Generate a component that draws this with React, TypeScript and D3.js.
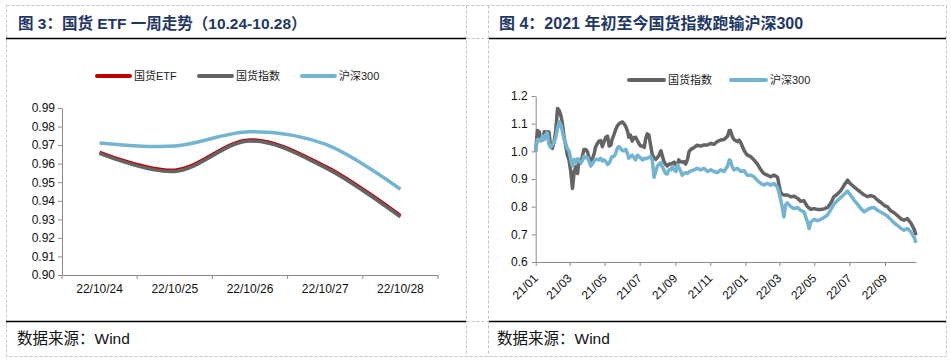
import { useRef, useEffect } from 'react';
import * as d3 from 'd3';

const W = 951;
const H = 362;

// 图3：国货ETF 一周走势
const weekDays = ['22/10/24', '22/10/25', '22/10/26', '22/10/27', '22/10/28'];
const etfWeek = [0.9661, 0.9565, 0.9728, 0.9586, 0.932];
const indexWeek = [0.9655, 0.9558, 0.9722, 0.9579, 0.9313];
const hs300Week = [0.9712, 0.9695, 0.9772, 0.9705, 0.9462];
const weekTicks = [0.9, 0.91, 0.92, 0.93, 0.94, 0.95, 0.96, 0.97, 0.98, 0.99];

// 图4：2021 年初至今
const dates = [
  '2021-01-04', '2021-01-07', '2021-01-10', '2021-01-13', '2021-01-16', '2021-01-19', '2021-01-21', '2021-01-24', '2021-01-27', '2021-01-30',
  '2021-02-02', '2021-02-05', '2021-02-08', '2021-02-11', '2021-02-14', '2021-02-17', '2021-02-19', '2021-02-22', '2021-02-25', '2021-02-28',
  '2021-03-03', '2021-03-06', '2021-03-09', '2021-03-12', '2021-03-15', '2021-03-18', '2021-03-20', '2021-03-23', '2021-03-26', '2021-03-29',
  '2021-04-01', '2021-04-04', '2021-04-07', '2021-04-10', '2021-04-13', '2021-04-16', '2021-04-18', '2021-04-21', '2021-04-24', '2021-04-27', '2021-04-30',
  '2021-05-03', '2021-05-06', '2021-05-09', '2021-05-12', '2021-05-15', '2021-05-17', '2021-05-20', '2021-05-23', '2021-05-26', '2021-05-29',
  '2021-06-01', '2021-06-04', '2021-06-07', '2021-06-10', '2021-06-13', '2021-06-15', '2021-06-18', '2021-06-21', '2021-06-24', '2021-06-27', '2021-06-30',
  '2021-07-03', '2021-07-06', '2021-07-09', '2021-07-12', '2021-07-14', '2021-07-17', '2021-07-20', '2021-07-23', '2021-07-26', '2021-07-29',
  '2021-08-01', '2021-08-04', '2021-08-07', '2021-08-10', '2021-08-12', '2021-08-15', '2021-08-18', '2021-08-21', '2021-08-24', '2021-08-27', '2021-08-30',
  '2021-09-02', '2021-09-05', '2021-09-08', '2021-09-10', '2021-09-13', '2021-09-16', '2021-09-19', '2021-09-22', '2021-09-25', '2021-09-28',
  '2021-10-01', '2021-10-07', '2021-10-12', '2021-10-18', '2021-10-24', '2021-10-30',
  '2021-11-05', '2021-11-10', '2021-11-16', '2021-11-22', '2021-11-28',
  '2021-12-04', '2021-12-07', '2021-12-09', '2021-12-12', '2021-12-15', '2021-12-21', '2021-12-24', '2021-12-27',
  '2022-01-02', '2022-01-07', '2022-01-13', '2022-01-19', '2022-01-25', '2022-01-31',
  '2022-02-05', '2022-02-11', '2022-02-17', '2022-02-23',
  '2022-03-01', '2022-03-06', '2022-03-09', '2022-03-12', '2022-03-15', '2022-03-18', '2022-03-24', '2022-03-30',
  '2022-04-05', '2022-04-10', '2022-04-16', '2022-04-22', '2022-04-25', '2022-04-28',
  '2022-05-04', '2022-05-09', '2022-05-15', '2022-05-21', '2022-05-27',
  '2022-06-02', '2022-06-07', '2022-06-13', '2022-06-19', '2022-06-25',
  '2022-07-01', '2022-07-06', '2022-07-12', '2022-07-18', '2022-07-24', '2022-07-30',
  '2022-08-05', '2022-08-10', '2022-08-16', '2022-08-22', '2022-08-28',
  '2022-09-03', '2022-09-08', '2022-09-14', '2022-09-20', '2022-09-26',
  '2022-10-02', '2022-10-07', '2022-10-13', '2022-10-19', '2022-10-25', '2022-10-28',
];

const indexLevel = [
  1.0, 1.075, 1.071, 1.047, 1.041, 1.071, 1.063, 1.071, 1.07, 1.017,
  1.011, 1.035, 1.077, 1.155, 1.147, 1.128, 1.107, 1.059, 1.023, 0.987,
  0.969, 0.927, 0.866, 0.927, 0.945, 0.92, 0.969, 0.957, 0.98, 1.007,
  1.007, 0.999, 0.975, 0.965, 0.975, 0.993, 1.014, 1.027, 1.037, 1.039, 1.017,
  1.035, 1.051, 1.055, 1.019, 1.023, 1.043, 1.059, 1.077, 1.092, 1.099,
  1.104, 1.106, 1.099, 1.089, 1.071, 1.051, 1.059, 1.037, 1.049, 1.051, 1.039,
  1.027, 1.019, 1.019, 1.014, 1.041, 1.063, 1.059, 1.023, 0.987, 0.977,
  0.971, 0.978, 0.987, 1.002, 0.987, 0.965, 0.953, 0.947, 0.954, 0.954, 0.957,
  0.961, 0.951, 0.954, 0.969, 0.963, 0.961, 0.963, 0.954, 0.969, 0.999,
  1.007, 1.014, 1.022, 1.019, 1.023, 1.023,
  1.029, 1.025, 1.035, 1.041, 1.043,
  1.055, 1.075, 1.075, 1.055, 1.043, 1.035, 1.041, 1.031,
  1.002, 0.987, 0.981, 0.969, 0.954, 0.933,
  0.92, 0.914, 0.908, 0.914,
  0.906, 0.854, 0.845, 0.842, 0.842, 0.842, 0.836, 0.838,
  0.83, 0.82, 0.821, 0.8, 0.795, 0.791,
  0.793, 0.79, 0.79, 0.792, 0.797,
  0.814, 0.836, 0.845, 0.858, 0.878,
  0.896, 0.882, 0.872, 0.862, 0.852, 0.842,
  0.836, 0.84, 0.836, 0.824, 0.815,
  0.804, 0.8, 0.785, 0.778, 0.767,
  0.756, 0.751, 0.757, 0.741, 0.717, 0.697,
];

const hs300Level = [
  1.0, 1.043, 1.041, 1.037, 1.055, 1.043, 1.059, 1.067, 1.027, 1.014,
  1.023, 1.031, 1.051, 1.083, 1.107, 1.095, 1.077, 1.047, 1.029, 1.01,
  1.002, 0.971, 0.947, 0.971, 0.959, 0.973, 0.966, 0.959, 0.966, 0.981,
  0.977, 0.978, 0.963, 0.947, 0.957, 0.965, 0.971, 0.971, 0.969, 0.975, 0.965,
  0.969, 0.963, 0.953, 0.957, 0.973, 0.981, 0.981, 0.99, 1.011, 1.017,
  1.01, 1.002, 1.002, 1.007, 0.99, 0.975, 0.981, 0.986, 0.978, 0.969, 0.986,
  0.981, 0.975, 0.969, 0.975, 0.973, 0.975, 0.978, 0.981, 0.969, 0.906,
  0.927, 0.947, 0.954, 0.959, 0.945, 0.935, 0.92, 0.918, 0.933, 0.933, 0.945,
  0.933, 0.927, 0.951, 0.942, 0.93, 0.914, 0.92, 0.923, 0.92, 0.925,
  0.929, 0.933, 0.939, 0.933, 0.939, 0.927,
  0.933, 0.927, 0.923, 0.933, 0.927,
  0.947, 0.969, 0.966, 0.945, 0.933, 0.939, 0.933, 0.927,
  0.93, 0.914, 0.914, 0.908, 0.894, 0.884,
  0.878, 0.884, 0.878, 0.884,
  0.87, 0.83, 0.8, 0.763, 0.806, 0.814, 0.8, 0.793,
  0.797, 0.787, 0.781, 0.745, 0.721, 0.745,
  0.754, 0.749, 0.754, 0.761, 0.77,
  0.79, 0.809, 0.821, 0.833, 0.845,
  0.856, 0.842, 0.824, 0.809, 0.793, 0.781,
  0.79, 0.795, 0.797, 0.787, 0.78,
  0.773, 0.766, 0.754, 0.741, 0.732,
  0.721, 0.715, 0.721, 0.709, 0.688, 0.669,
];

const monthTicks = [
  '2021-01-04', '2021-03-04', '2021-05-04', '2021-07-04', '2021-09-04', '2021-11-04',
  '2022-01-04', '2022-03-04', '2022-05-04', '2022-07-04', '2022-09-04',
];
const levelTicks = [0.6, 0.7, 0.8, 0.9, 1.0, 1.1, 1.2];

const RED = '#c00000';
const GRAY = '#646464';
const BLUE = '#74b4d0';
const AXIS = '#8c8c8c';
const NAVY = '#1f3864';
const DASH = '#c4c4c4';
const FONT = '"Liberation Sans", Arial, "Noto Sans CJK SC", sans-serif';

const parseDate = d3.timeParse('%Y-%m-%d');
const monthFmt = d3.timeFormat('%y/%m');

function legend(g: any, items: { label: string; color: string; x: number }[], y: number, len: number) {
  items.forEach((it) => {
    g.append('line')
      .attr('x1', it.x).attr('x2', it.x + len)
      .attr('y1', y).attr('y2', y)
      .attr('stroke', it.color).attr('stroke-width', 4)
      .attr('stroke-linecap', 'round');
    g.append('text')
      .attr('x', it.x + len + 4).attr('y', y + 4)
      .attr('font-size', 11).attr('fill', '#222')
      .text(it.label);
  });
}

export default function App() {
  const leftRef = useRef<SVGGElement>(null);
  const rightRef = useRef<SVGGElement>(null);

  useEffect(() => {
    // ---------- left chart ----------
    const g = d3.select(leftRef.current);
    g.selectAll('*').remove();

    const x = d3.scaleBand().domain(weekDays).range([62, 438]);
    const y = d3.scaleLinear().domain([0.9, 0.99]).range([275, 108]);

    const yAxis = g.append('g').attr('transform', 'translate(62,0)')
      .call(d3.axisLeft(y).tickValues(weekTicks).tickFormat(d3.format('.2f')).tickSize(4).tickSizeOuter(0).tickPadding(3));
    yAxis.selectAll('line, path').attr('stroke', AXIS);
    yAxis.selectAll('text').attr('font-size', 12).attr('font-family', FONT).attr('fill', '#111');

    const xAxis = g.append('g').attr('transform', 'translate(0,275)')
      .call(d3.axisBottom(x).tickSize(0).tickSizeOuter(0).tickPadding(9));
    xAxis.select('.domain').attr('stroke', AXIS);
    xAxis.selectAll('text').attr('font-size', 12).attr('font-family', FONT).attr('fill', '#111');
    const bounds = [...weekDays.map((d) => x(d) as number), 438];
    g.append('g').selectAll('line').data(bounds).join('line')
      .attr('x1', (d) => d).attr('x2', (d) => d)
      .attr('y1', 275).attr('y2', 279)
      .attr('stroke', AXIS);

    const cx = (i: number) => (x(weekDays[i]) as number) + x.bandwidth() / 2;
    const smooth = d3.line<number>().x((_, i) => cx(i)).y((v) => y(v)).curve(d3.curveCatmullRom.alpha(0.5));
    [
      { vals: etfWeek, color: RED, w: 3.5 },
      { vals: indexWeek, color: GRAY, w: 3.5 },
      { vals: hs300Week, color: BLUE, w: 3.5 },
    ].forEach((s) => {
      g.append('path').attr('d', smooth(s.vals)).attr('fill', 'none')
        .attr('stroke', s.color).attr('stroke-width', s.w);
    });

    legend(g, [
      { label: '国货ETF', color: RED, x: 97 },
      { label: '国货指数', color: GRAY, x: 199 },
      { label: '沪深300', color: BLUE, x: 302 },
    ], 76, 33);

    // ---------- right chart ----------
    const r = d3.select(rightRef.current);
    r.selectAll('*').remove();

    const parsed = dates.map((d) => parseDate(d) as Date);
    const tx = d3.scaleTime()
      .domain([parseDate('2021-01-04') as Date, parseDate('2022-10-28') as Date])
      .range([535.7, 916]);
    const ty = d3.scaleLinear().domain([0.6, 1.2]).range([262, 96]);

    const ryAxis = r.append('g').attr('transform', 'translate(535.7,0)')
      .call(d3.axisLeft(ty).tickValues(levelTicks).tickFormat(d3.format('.1f')).tickSize(4).tickSizeOuter(0).tickPadding(4));
    ryAxis.selectAll('line, path').attr('stroke', AXIS);
    ryAxis.selectAll('text').attr('font-size', 12).attr('font-family', FONT).attr('fill', '#111');

    const tickDates = monthTicks.map((d) => parseDate(d) as Date);
    const rxAxis = r.append('g').attr('transform', 'translate(0,262)')
      .call(d3.axisBottom(tx).tickValues(tickDates).tickSize(4).tickSizeOuter(0).tickFormat(() => ''));
    rxAxis.selectAll('line, path').attr('stroke', AXIS);
    r.append('g').selectAll('text').data(tickDates).join('text')
      .attr('transform', (d) => `translate(${tx(d) + 3},${279}) rotate(-45)`)
      .attr('text-anchor', 'end')
      .attr('font-size', 12).attr('font-family', FONT).attr('fill', '#111')
      .text((d) => monthFmt(d));

    const path = d3.line<number>().x((_, i) => tx(parsed[i])).y((v) => ty(v)).curve(d3.curveLinear);
    r.append('path').attr('d', path(indexLevel)).attr('fill', 'none')
      .attr('stroke', GRAY).attr('stroke-width', 3.5).attr('stroke-linejoin', 'round');
    r.append('path').attr('d', path(hs300Level)).attr('fill', 'none')
      .attr('stroke', BLUE).attr('stroke-width', 3.5).attr('stroke-linejoin', 'round');

    legend(r, [
      { label: '国货指数', color: GRAY, x: 629 },
      { label: '沪深300', color: BLUE, x: 731 },
    ], 80, 35);
  }, []);

  return (
    <svg width={W} height={H} style={{ position: 'absolute', left: 0, top: 0, background: '#fff' }} fontFamily={FONT}>
      <rect x={0} y={0} width={W} height={H} fill="#fff" />
      {/* dashed cell grid */}
      <g stroke={DASH} strokeWidth={1} strokeDasharray="3,2" fill="none">
        <rect x={6.5} y={5.5} width={940} height={351} />
        <line x1={466.5} x2={466.5} y1={5.5} y2={356.5} />
        <line x1={488.5} x2={488.5} y1={5.5} y2={356.5} />
        <line x1={6.5} x2={946.5} y1={38.5} y2={38.5} />
        <line x1={6.5} x2={946.5} y1={321.5} y2={321.5} />
      </g>
      {/* solid rules */}
      <g stroke="#000" strokeWidth={1.5}>
        <line x1={6} x2={466} y1={38.5} y2={38.5} />
        <line x1={489} x2={946} y1={38.5} y2={38.5} />
        <line x1={6} x2={466} y1={321.5} y2={321.5} />
        <line x1={489} x2={946} y1={321.5} y2={321.5} />
      </g>
      <text x={18} y={29} fontSize={15.5} fontWeight="bold" fill={NAVY}>图 3：国货 ETF 一周走势（10.24-10.28）</text>
      <text x={499} y={29} fontSize={16} fontWeight="bold" fill={NAVY}>图 4：2021 年初至今国货指数跑输沪深300</text>
      <text x={17} y={344} fontSize={15.5} fill="#111">数据来源：Wind</text>
      <text x={497} y={344} fontSize={15.5} fill="#111">数据来源：Wind</text>
      <g ref={leftRef} />
      <g ref={rightRef} />
    </svg>
  );
}
